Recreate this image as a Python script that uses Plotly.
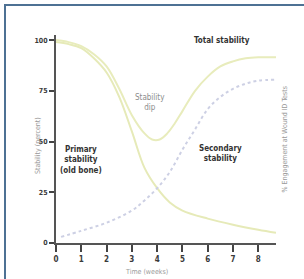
import plotly.graph_objects as go

# Data
weeks_primary = [0, 0.5, 1, 1.5, 2, 2.5, 3, 3.5, 4, 4.5, 5, 6, 7, 8, 8.7]
primary = [99, 98, 96, 91, 84, 72, 55, 37, 27, 20, 16, 12, 9, 6.5, 5]

weeks_total = [0, 0.5, 1, 1.5, 2, 2.5, 3, 3.5, 3.8, 4.1, 4.4, 4.7, 5, 5.5, 6, 6.5, 7, 7.5, 8, 8.7]
total = [100, 99, 97, 93, 87, 76, 63, 54, 51, 51, 54, 59, 65, 75, 82, 87, 89.5, 91, 91.5, 91.5]

weeks_secondary = [0.2, 1, 2, 3, 3.5, 4, 4.5, 5, 5.5, 6, 6.5, 7, 7.5, 8, 8.7]
secondary = [3, 6, 10, 16, 21, 27, 35, 46, 56, 66, 72, 76, 78.5, 80, 80.5]

x_ticks = [0, 1, 2, 3, 4, 5, 6, 7, 8]
y_ticks = [0, 25, 50, 75, 100]

font = "DejaVu Sans Condensed, Liberation Sans Narrow, Arial"

fig = go.Figure()
fig.add_trace(go.Scatter(x=weeks_primary, y=primary, mode="lines",
                         line=dict(color="#e6eab8", width=2, shape="spline"),
                         hoverinfo="skip"))
fig.add_trace(go.Scatter(x=weeks_total, y=total, mode="lines",
                         line=dict(color="#e8ecbc", width=2, shape="spline"),
                         hoverinfo="skip"))
fig.add_trace(go.Scatter(x=weeks_secondary, y=secondary, mode="lines",
                         line=dict(color="#cdd0e4", width=2, dash="dot", shape="spline"),
                         hoverinfo="skip"))

ann = [
    dict(x=6.56, y=100, text="<b>Total stability</b>", font=dict(size=8, color="#333333")),
    dict(x=3.7, y=69, text="Stability<br>dip", font=dict(size=8, color="#8c8c8c")),
    dict(x=1.0, y=41, text="<b>Primary<br>stability<br>(old bone)</b>", font=dict(size=8, color="#333333")),
    dict(x=6.5, y=44, text="<b>Secondary<br>stability</b>", font=dict(size=8, color="#333333")),
]
annotations = []
for a in ann:
    a.update(xref="x", yref="y", showarrow=False, align="center")
    a["font"]["family"] = font
    annotations.append(a)

annotations += [
    dict(xref="paper", yref="paper", x=-0.11, y=0.47, text="Stability (percent)",
         textangle=-90, showarrow=False, font=dict(size=7, color="#9a9a9a", family=font)),
    dict(xref="paper", yref="paper", x=1.07, y=0.5, text="% Engagement at Wound ID Tests",
         textangle=-90, showarrow=False, font=dict(size=7, color="#9a9a9a", family=font)),
    dict(xref="paper", yref="paper", x=0.41, y=-0.11, text="Time (weeks)",
         showarrow=False, yanchor="top", font=dict(size=7, color="#9a9a9a", family=font)),
]

fig.update_layout(
    width=304, height=279,
    margin=dict(l=56, r=28, t=35, b=36),
    paper_bgcolor="#ffffff", plot_bgcolor="#ffffff",
    showlegend=False,
    annotations=annotations,
    shapes=[
        dict(type="rect", xref="paper", yref="paper", layer="above",
             x0=-51/220, x1=1 + 40/220, y0=-50/208, y1=1 + 30/208,
             line=dict(color="#4d7194", width=2), fillcolor="rgba(0,0,0,0)"),
    ],
)
fig.update_xaxes(range=[0, 8.7], tickvals=x_ticks, ticks="outside", ticklen=7,
                 tickwidth=2, tickcolor="#444444", showline=True, linecolor="#555555",
                 linewidth=2, showgrid=False, zeroline=False,
                 tickfont=dict(size=8, color="#3a3a3a", family=font, weight="bold"))
fig.update_yaxes(range=[0, 102.5], tickvals=y_ticks, ticks="outside", ticklen=5,
                 tickwidth=2, tickcolor="#444444", showline=True, linecolor="#555555",
                 linewidth=2, showgrid=False, zeroline=False,
                 tickfont=dict(size=7, color="#3a3a3a", family=font, weight="bold"))

fig.write_html("out.html", config={"displayModeBar": False},
               post_script="document.body.style.margin='0';document.body.style.overflow='hidden';")
